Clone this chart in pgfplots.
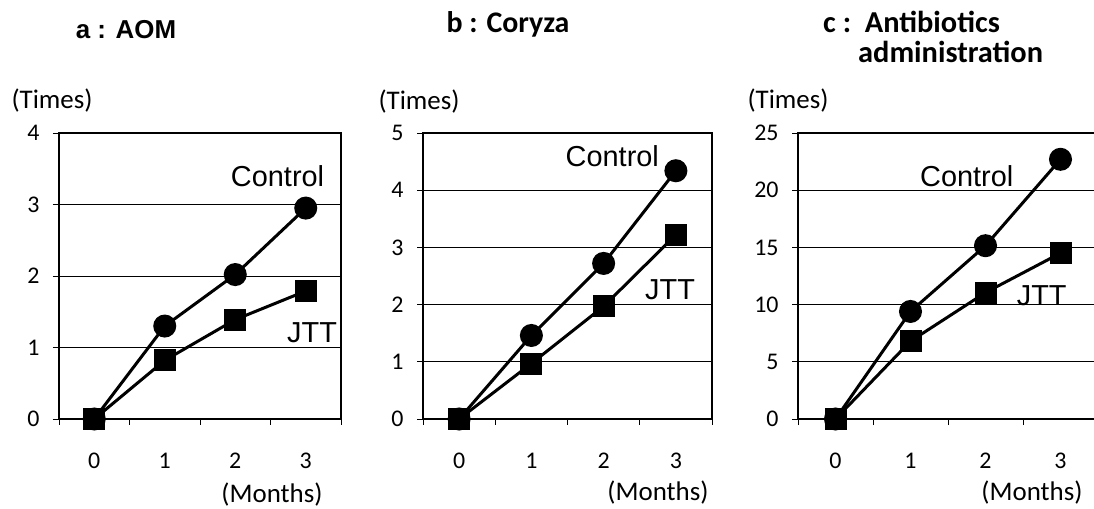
\documentclass[border=0pt]{standalone}
\usepackage{pgfplots}
\pgfplotsset{compat=1.18}
\usepackage{fontspec}
\setmainfont{Carlito}
\newfontfamily\arial{Liberation Sans}
\begin{document}
\begin{tikzpicture}
\path[use as bounding box] (0,0) rectangle (1094bp,509bp);
\tikzset{lab/.style={font=\arial\fontsize{29}{32}\selectfont, inner sep=0pt}}
\pgfplotsset{
  panel/.style={
    scale only axis, height=286bp,
    xmin=-0.5, xmax=3.5, ymin=0,
    xtick={0,1,2,3}, minor xtick={-0.5,0.5,1.5,2.5,3.5},
    major x tick style={draw=none},
    tick align=outside, xtick pos=bottom, ytick pos=left,
    major tick length=6bp, minor tick length=6bp,
    ymajorgrids, grid style={black, line width=0.9pt},
    axis line style={line width=1.6pt},
    every tick/.style={black, line width=0.8pt},
    tick label style={font=\fontsize{24}{28}\selectfont},
    /pgf/number format/assume math mode=true,
    xticklabel style={anchor=center, yshift=-36bp},
    yticklabel style={xshift=-10bp},
    clip=false,
  },
  ctrl/.style={black, line width=3bp, mark=*, mark size=10bp, mark options={solid}},
  jtt/.style={black, line width=3bp, mark=square*, mark size=9.5bp, mark options={solid}},
}
% Panel a
\begin{axis}[panel, at={(59bp,90bp)}, anchor=south west, width=282bp, ymax=4, ytick={0,1,2,3,4}]
\addplot[ctrl] coordinates {(0,0) (1,1.30) (2,2.02) (3,2.95)};
\addplot[jtt] coordinates {(0,0) (1,0.82) (2,1.39) (3,1.79)};
\node[lab] at (axis cs:2.6,3.4) {Control};
\node[lab] at (axis cs:3.09,1.2) {JTT};
\end{axis}
% Panel b
\begin{axis}[panel, at={(423bp,90bp)}, anchor=south west, width=289bp, ymax=5, ytick={0,1,2,3,4,5}]
\addplot[ctrl] coordinates {(0,0) (1,1.46) (2,2.72) (3,4.34)};
\addplot[jtt] coordinates {(0,0) (1,0.97) (2,1.97) (3,3.22)};
\node[lab] at (axis cs:2.12,4.6) {Control};
\node[lab] at (axis cs:2.92,2.26) {JTT};
\end{axis}
% Panel c
\begin{axis}[panel, at={(798bp,90bp)}, anchor=south west, width=300bp, ymax=25, ytick={0,5,10,15,20,25}]
\addplot[ctrl] coordinates {(0,0) (1,9.4) (2,15.15) (3,22.7)};
\addplot[jtt] coordinates {(0,0) (1,6.8) (2,11.05) (3,14.5)};
\node[lab] at (axis cs:1.75,21.2) {Control};
\node[lab] at (axis cs:2.75,10.8) {JTT};
\end{axis}
% axis descriptions
\begin{scope}[every node/.style={font=\fontsize{27}{30}\selectfont, inner sep=0pt}]
\node at (52bp,408bp) {(Times)};
\node at (419bp,407bp) {(Times)};
\node at (788bp,408bp) {(Times)};
\node at (272bp,14bp) {(Months)};
\node at (658bp,16bp) {(Months)};
\node at (1032bp,16bp) {(Months)};
\end{scope}
% titles
\node[font=\arial\bfseries\fontsize{26}{28}\selectfont, inner sep=0pt, anchor=base] at (126bp,470bp) {a : AOM};
\node[font=\bfseries\fontsize{30}{34}\selectfont, inner sep=0pt, anchor=base] at (508bp,476bp) {b : Coryza};
\node[font=\bfseries\fontsize{30.5}{34}\selectfont, inner sep=0pt, anchor=base west] at (823bp,476bp) {c :\ \ Antibiotics};
\node[font=\bfseries\fontsize{30.5}{34}\selectfont, inner sep=0pt, anchor=base west] at (858bp,446bp) {administration};
\end{tikzpicture}
\end{document}
